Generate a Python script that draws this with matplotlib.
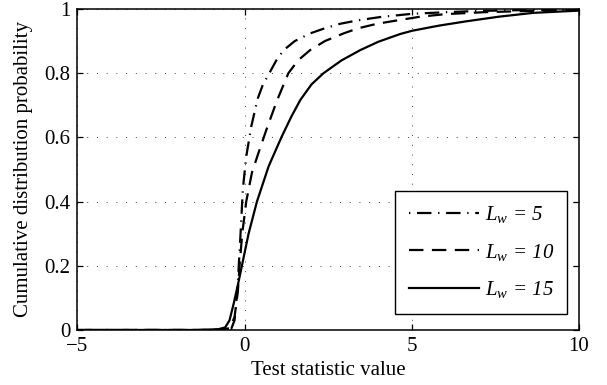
import numpy as np
import matplotlib
matplotlib.use('Agg')
import matplotlib.pyplot as plt

plt.rcParams['font.family'] = ['Liberation Serif', 'DejaVu Serif']
plt.rcParams['mathtext.fontset'] = 'custom'
plt.rcParams['mathtext.rm'] = 'Liberation Serif'
plt.rcParams['mathtext.it'] = 'Liberation Serif:italic'
plt.rcParams['axes.unicode_minus'] = True

# curves (x, cdf)
x_lw5 = [-5, -1, -0.4, -0.3, -0.25, -0.2, -0.12, -0.05, 0.05, 0.2, 0.39, 0.55, 0.74, 0.95, 1.17, 1.5, 1.96, 2.4, 2.86, 3.4, 4.06, 5, 6, 7, 8.5, 10]
y_lw5 = [0, 0, 0.003, 0.03, 0.08, 0.15, 0.3, 0.44, 0.54, 0.634, 0.72, 0.765, 0.80, 0.84, 0.872, 0.90, 0.924, 0.94, 0.954, 0.965, 0.975, 0.985, 0.99, 0.994, 0.997, 0.998]

x_lw10 = [-5, -1, -0.45, -0.3, -0.2, -0.15, -0.07, 0.05, 0.22, 0.41, 0.66, 0.97, 1.31, 1.6, 1.96, 2.4, 2.96, 3.4, 3.96, 4.65, 5.25, 6, 7.14, 8.5, 10]
y_lw10 = [0, 0, 0.005, 0.04, 0.12, 0.2, 0.3, 0.4, 0.49, 0.55, 0.626, 0.715, 0.80, 0.84, 0.872, 0.90, 0.924, 0.94, 0.954, 0.966, 0.976, 0.984, 0.99, 0.994, 0.997]

x_lw15 = [-5, -1.5, -0.8, -0.58, -0.45, -0.33, -0.2, -0.08, 0.12, 0.37, 0.72, 1.1, 1.4, 1.67, 2.0, 2.36, 2.9, 3.46, 4.0, 4.65, 5.0, 5.8, 6.65, 7.6, 8.63, 10]
y_lw15 = [0, 0, 0.002, 0.008, 0.03, 0.08, 0.14, 0.20, 0.30, 0.40, 0.51, 0.60, 0.665, 0.717, 0.765, 0.80, 0.84, 0.872, 0.898, 0.922, 0.932, 0.948, 0.962, 0.976, 0.988, 0.995]

labels = [r'$L_w$ = 5', r'$L_w$ = 10', r'$L_w$ = 15']

fig = plt.figure(figsize=(6.07, 3.85), dpi=100)
ax = fig.add_axes([0.1274, 0.1429, 0.8265, 0.8337])

lw = 1.6
l1, = ax.plot(x_lw5, y_lw5, color='k', lw=lw, label=labels[0],
              linestyle=(9.5, (6.5, 3.0, 0.6, 3.0)))
l2, = ax.plot(x_lw10, y_lw10, color='k', lw=lw, label=labels[1],
              linestyle=(0, (6.5, 3.8)))
l3, = ax.plot(x_lw15, y_lw15, color='k', lw=lw, label=labels[2])

ax.set_xlim(-5, 10)
ax.set_ylim(0, 1)
ax.set_xticks([-5, 0, 5, 10])
ax.set_yticks([0, 0.2, 0.4, 0.6, 0.8, 1])
ax.set_yticklabels(['0', '0.2', '0.4', '0.6', '0.8', '1'])
ax.grid(True, color='0.25', linestyle=(0, (1, 9)), lw=0.7)
ax.tick_params(direction='in', top=True, right=True, length=4, width=0.9,
               labelsize=15, pad=5)
for s in ax.spines.values():
    s.set_linewidth(1.1)

ax.set_xlabel('Test statistic value', fontsize=15, labelpad=4)
ax.set_ylabel('Cumulative distribution probability', fontsize=15, labelpad=8)

leg = ax.legend(loc='lower right', bbox_to_anchor=(0.9767, 0.0498), borderaxespad=0,
                fancybox=False, framealpha=1, edgecolor='k',
                prop={'style': 'italic', 'size': 15},
                handlelength=3.4, handletextpad=0.25, labelspacing=0.8,
                borderpad=0.65)
leg.get_frame().set_linewidth(1.0)

fig.savefig('out.png', dpi=100)
